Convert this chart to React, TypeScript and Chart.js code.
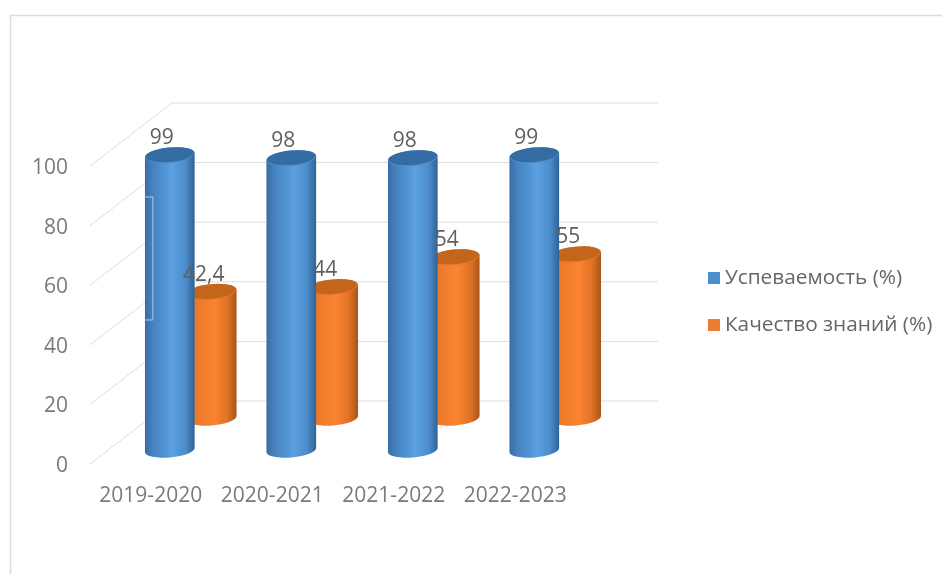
import React, { useEffect, useRef } from "react";
import { Chart, registerables } from "chart.js";

Chart.register(...registerables);

const categories = ["2019-2020", "2020-2021", "2021-2022", "2022-2023"];
const seriesNames = ["Успеваемость (%)", "Качество знаний (%)"];
const progress = [99, 98, 98, 99];
const quality = [42.4, 44, 54, 55];
const yMax = 100;
const yStep = 20;

const FONT = "'Open Sans', sans-serif";
const GRID = "#dcdcdc";
const BACK = { dx: 82, dy: -63 };
const GRID_LIFT = -2;
const SHIFT = [
  { dx: 40, dy: -16 },
  { dx: 40, dy: -48 },
];
const PALETTE = [
  {
    swatch: "#4a8fd0",
    top: "#356ca3",
    rim: "#4f8fcb",
    stops: ["#3a6ca3", "#4480bd", "#5ba0e0", "#4c8cca", "#2f6296"],
  },
  {
    swatch: "#ed7d31",
    top: "#c4651c",
    rim: "#e8792b",
    stops: ["#cc6a22", "#e9782a", "#fb8431", "#de7226", "#a65519"],
  },
];

function cylinder(ctx: CanvasRenderingContext2D, x: number, w: number, top: number, base: number, p: typeof PALETTE[number]) {
  const rx = w / 2;
  const ry = 7.5;
  const tilt = -0.09;
  const g = ctx.createLinearGradient(x - rx, 0, x + rx, 0);
  [0, 0.14, 0.55, 0.82, 1].forEach((s, i) => g.addColorStop(s, p.stops[i]));
  ctx.beginPath();
  ctx.ellipse(x, base, rx, ry, tilt, 0, Math.PI);
  ctx.ellipse(x, top, rx, ry, tilt, Math.PI, Math.PI * 2);
  ctx.closePath();
  ctx.fillStyle = g;
  ctx.fill();
  ctx.beginPath();
  ctx.ellipse(x, top, rx - 0.5, ry, tilt, 0, Math.PI * 2);
  ctx.fillStyle = p.top;
  ctx.fill();
  ctx.strokeStyle = p.rim;
  ctx.lineWidth = 1;
  ctx.beginPath();
  ctx.ellipse(x, top, rx - 0.5, ry, tilt, 0, Math.PI);
  ctx.stroke();
}

const scene3d = {
  id: "scene3d",
  afterLayout(chart: any) {
    const lg = chart.legend;
    const pad = lg.options.labels.padding;
    lg.left = 712.5 - pad;
    lg.right = 942;
    lg.top = 267.5 - pad;
    lg.bottom = 574;
  },
  beforeDatasetsDraw(chart: any) {
    const { ctx, scales, chartArea } = chart;
    ctx.save();
    ctx.strokeStyle = GRID;
    ctx.lineWidth = 1.5;
    ctx.beginPath();
    ctx.moveTo(10.5, 574);
    ctx.lineTo(10.5, 15.5);
    ctx.lineTo(942, 15.5);
    ctx.stroke();
    ctx.lineWidth = 1;
    scales.y.ticks.forEach((t: any) => {
      const y = scales.y.getPixelForValue(t.value) + GRID_LIFT;
      const x0 = chartArea.left;
      ctx.beginPath();
      ctx.moveTo(x0, y);
      ctx.lineTo(x0 + BACK.dx, y + BACK.dy);
      ctx.lineTo(chartArea.right + BACK.dx, y + BACK.dy);
      ctx.stroke();
    });
    ctx.restore();
  },
  beforeDatasetDraw(chart: any, args: any) {
    const { ctx } = chart;
    const i = args.index;
    const s = SHIFT[i];
    const els = args.meta.data;
    els.forEach((el: any) => {
      cylinder(ctx, el.x + s.dx, el.width, el.y + s.dy, el.base + s.dy, PALETTE[i]);
    });
    if (i === 0) {
      // pale scan mark on the first column
      const el = els[0];
      const left = el.x + s.dx - el.width / 2;
      ctx.save();
      ctx.strokeStyle = "#a9cdf0";
      ctx.lineWidth = 1;
      ctx.beginPath();
      ctx.moveTo(left, el.y + 26);
      ctx.lineTo(left + 8, el.y + 26);
      ctx.lineTo(left + 8, el.y + 149);
      ctx.lineTo(left, el.y + 149);
      ctx.stroke();
      ctx.restore();
    }
    return false;
  },
  afterDatasetsDraw(chart: any) {
    const { ctx } = chart;
    ctx.save();
    ctx.font = `21px ${FONT}`;
    ctx.fillStyle = "#5f5f5f";
    ctx.textAlign = "center";
    ctx.textBaseline = "middle";
    chart.data.datasets.forEach((d: any, i: number) => {
      const s = SHIFT[i];
      chart.getDatasetMeta(i).data.forEach((el: any, k: number) => {
        ctx.fillText(String(d.data[k]).replace(".", ","), el.x + s.dx - 8, el.y + s.dy - 17);
      });
    });
    ctx.restore();
  },
};

function swatch(color: string) {
  const c = document.createElement("canvas");
  c.width = 12;
  c.height = 12;
  const x = c.getContext("2d")!;
  x.fillStyle = color;
  x.fillRect(0, 0, 12, 12);
  return c;
}

export default function App() {
  const ref = useRef<HTMLCanvasElement>(null);
  useEffect(() => {
    const swatches = PALETTE.map((p) => swatch(p.swatch));
    const chart = new Chart(ref.current!, {
      type: "bar",
      data: {
        labels: categories,
        datasets: [
          { label: seriesNames[0], data: progress, backgroundColor: PALETTE[0].swatch },
          { label: seriesNames[1], data: quality, backgroundColor: PALETTE[1].swatch },
        ],
      },
      options: {
        responsive: false,
        animation: false,
        devicePixelRatio: 1,
        layout: { autoPadding: false, padding: { left: 0, top: 168, right: 366, bottom: 0 } },
        datasets: { bar: { categoryPercentage: 0.69, barPercentage: 1.19 } },
        scales: {
          x: {
            grid: { display: false, drawTicks: false },
            border: { display: false },
            ticks: { padding: 17, maxRotation: 0, color: "#7a7a7a", font: { family: FONT, size: 21 } },
            afterFit: (s: any) => {
              s.height = 108;
            },
          },
          y: {
            min: 0,
            max: yMax,
            grid: { display: false, drawTicks: false },
            border: { display: false },
            ticks: { stepSize: yStep, padding: 22, color: "#7a7a7a", font: { family: FONT, size: 21 } },
            afterFit: (s: any) => {
              s.width = 90;
            },
          },
        },
        plugins: {
          tooltip: { enabled: false },
          legend: {
            position: "chartArea",
            align: "start",
            labels: {
              usePointStyle: true,
              pointStyleWidth: 2,
              boxHeight: 12,
              padding: 26,
              color: "#666666",
              font: { family: FONT, size: 20.8 },
              generateLabels: (c: any) =>
                (Chart.defaults.plugins.legend.labels as any)
                  .generateLabels(c)
                  .map((l: any, i: number) => ({ ...l, pointStyle: swatches[i] })),
            },
          },
        },
      } as any,
      plugins: [scene3d],
    });
    return () => chart.destroy();
  }, []);
  return (
    <div style={{ position: "absolute", left: 0, top: 0, width: 942, height: 574, background: "#fff" }}>
      <canvas ref={ref} width={942} height={574} style={{ display: "block", filter: "blur(0.7px)" }} />
    </div>
  );
}
